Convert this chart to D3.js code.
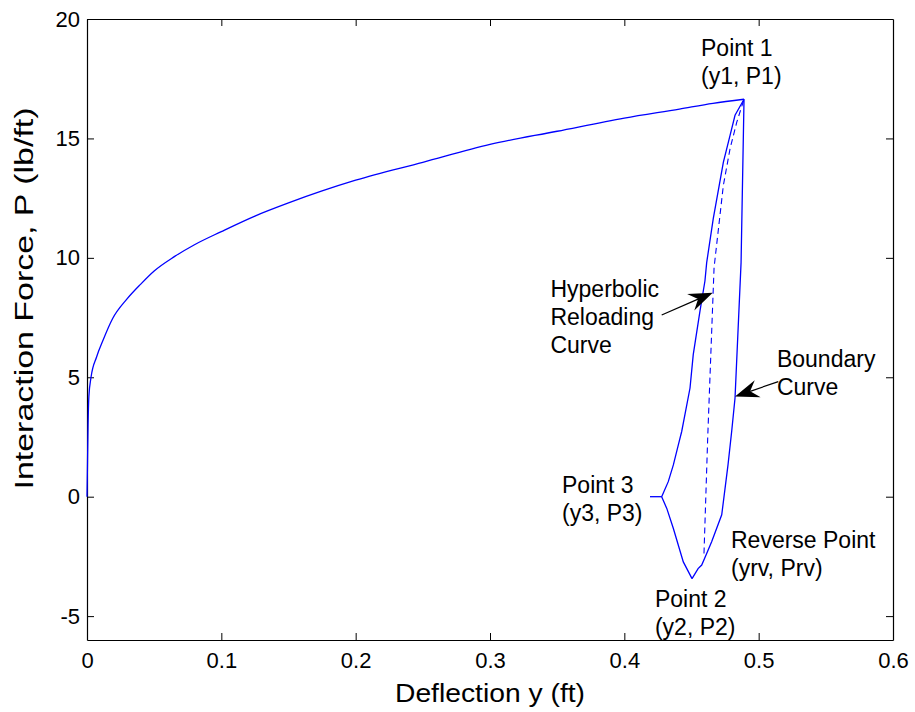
<!DOCTYPE html>
<html>
<head>
<meta charset="utf-8">
<script src="https://cdn.jsdelivr.net/npm/d3@7"></script>
<style>
  body { margin: 0; background: #fff; }
  text { font-family: "Liberation Sans", Arial, sans-serif; fill: #000; }
</style>
</head>
<body>
<div class="canvas"></div>
<script>
// backbone curve: origin to Point 1
const backboneY = [0, 0.0004, 0.0008, 0.0014, 0.003, 0.0072, 0.012, 0.019, 0.0295, 0.04, 0.05, 0.065, 0.08, 0.1, 0.125, 0.15, 0.175, 0.2, 0.25, 0.3, 0.35, 0.4, 0.441, 0.466, 0.4891];
const backboneP = [0, 1.5, 3.0, 4.2, 5.0, 5.86, 6.56, 7.45, 8.26, 8.9, 9.45, 10.05, 10.55, 11.1, 11.75, 12.3, 12.8, 13.25, 14.0, 14.75, 15.3, 15.85, 16.23, 16.47, 16.64];

// boundary curve: Point 1 down to Point 2
const boundaryY = [0.4891, 0.4869, 0.4824, 0.4799, 0.4772, 0.4725, 0.4650, 0.4613, 0.4576, 0.4549, 0.4504];
const boundaryP = [16.64, 9.8, 4.13, 2.73, 1.34, -0.76, -1.89, -2.38, -2.86, -3.01, -3.43];

// Point 2 back to Point 3, then hyperbolic reloading up to Point 1
const reloadY = [0.4504, 0.4439, 0.4365, 0.4316, 0.4278, 0.4327, 0.4365, 0.4402, 0.4427, 0.4489, 0.4513, 0.4563, 0.4600, 0.4613, 0.4662, 0.4737, 0.4787, 0.4824, 0.4891];
const reloadP = [-3.43, -2.73, -1.33, -0.49, 0, 0.63, 1.33, 2.17, 2.73, 4.55, 5.95, 7.77, 9.03, 9.8, 11.64, 14.0, 15.13, 15.97, 16.64];

// short flat piece at Point 3
const flatY = [0.4191, 0.4278];
const flatP = [0, 0];

// dashed curve from reverse point to Point 1
const dashY = [0.4593, 0.4621, 0.4668, 0.4737, 0.4787, 0.4837, 0.4891];
const dashP = [-2.38, 2.52, 9.59, 13.03, 14.57, 15.68, 16.64];

const xTicks = [0, 0.1, 0.2, 0.3, 0.4, 0.5, 0.6];
const yTicks = [-5, 0, 5, 10, 15, 20];

// annotation text: anchor in data units, lines
const notes = [
  { y: 0.4571, p: 18.45, lines: ['Point 1', '(y1, P1)'] },
  { y: 0.3450, p: 8.37, lines: ['Hyperbolic', 'Reloading', 'Curve'] },
  { y: 0.5136, p: 5.43, lines: ['Boundary', 'Curve'] },
  { y: 0.3536, p: 0.15, lines: ['Point 3', '(y3, P3)'] },
  { y: 0.4794, p: -2.15, lines: ['Reverse Point', '(yrv, Prv)'] },
  { y: 0.4228, p: -4.62, lines: ['Point 2', '(y2, P2)'] }
];

// arrows: from -> tip (data units)
const arrows = [
  { y0: 0.4278, p0: 7.61, y1: 0.4658, p1: 8.54 },
  { y0: 0.5146, p0: 4.82, y1: 0.4824, p1: 4.19 }
];

const dims = { width: 915, height: 712 };
const margin = { top: 19, right: 22, bottom: 72, left: 87 };

const svg = d3.select('.canvas').append('svg')
  .attr('width', dims.width)
  .attr('height', dims.height);

const x = d3.scaleLinear().domain([0, 0.6]).range([margin.left, dims.width - margin.right]);
const y = d3.scaleLinear().domain([-6, 20]).range([dims.height - margin.bottom, margin.top]);

const zip = (a, b) => a.map((v, i) => [v, b[i]]);

// axes box and ticks (inward, mirrored)
const tickLen = 7;
const gx = svg.append('g').attr('transform', `translate(0, ${y(-6)})`)
  .call(d3.axisBottom(x).tickValues(xTicks).tickSizeInner(-tickLen).tickSizeOuter(0).tickPadding(12).tickFormat(d => String(d)));
const gxTop = svg.append('g').attr('transform', `translate(0, ${y(20)})`)
  .call(d3.axisTop(x).tickValues(xTicks).tickSizeInner(-tickLen).tickSizeOuter(0).tickFormat(''));
const gy = svg.append('g').attr('transform', `translate(${x(0)}, 0)`)
  .call(d3.axisLeft(y).tickValues(yTicks).tickSizeInner(-tickLen).tickSizeOuter(0).tickPadding(7).tickFormat(d => String(d)));
const gyRight = svg.append('g').attr('transform', `translate(${x(0.6)}, 0)`)
  .call(d3.axisRight(y).tickValues(yTicks).tickSizeInner(-tickLen).tickSizeOuter(0).tickFormat(''));

[gx, gxTop, gy, gyRight].forEach(g => {
  g.select('.domain').attr('stroke', '#000').attr('stroke-width', 1.2);
  g.selectAll('.tick line').attr('stroke', '#000');
  g.selectAll('.tick text')
    .style('font-family', '"Liberation Sans", Arial, sans-serif')
    .style('font-size', '22px')
    .attr('fill', '#000');
});
// hide ticks at the box corners
gx.selectAll('.tick').filter(d => d === 0 || d === 0.6).select('line').remove();
gxTop.selectAll('.tick').filter(d => d === 0 || d === 0.6).select('line').remove();

// axis labels
svg.append('text')
  .attr('x', x(0.3))
  .attr('y', 702)
  .attr('text-anchor', 'middle')
  .attr('textLength', 190)
  .attr('lengthAdjust', 'spacingAndGlyphs')
  .style('font-size', '26px')
  .text('Deflection y (ft)');

svg.append('text')
  .attr('transform', `translate(33, ${y(8.3)}) rotate(-90)`)
  .attr('text-anchor', 'middle')
  .attr('textLength', 382)
  .attr('lengthAdjust', 'spacingAndGlyphs')
  .style('font-size', '26px')
  .text('Interaction Force, P (lb/ft)');

// curves
const line = d3.line().x(d => x(d[0])).y(d => y(d[1]));
const smooth = d3.line().x(d => x(d[0])).y(d => y(d[1])).curve(d3.curveMonotoneX);

svg.append('path').datum(zip(backboneY, backboneP))
  .attr('d', smooth).attr('fill', 'none').attr('stroke', '#0000ff').attr('stroke-width', 1.3);

[zip(boundaryY, boundaryP), zip(reloadY, reloadP), zip(flatY, flatP)].forEach(pts => {
  svg.append('path').datum(pts)
    .attr('d', line).attr('fill', 'none').attr('stroke', '#0000ff').attr('stroke-width', 1.3);
});

svg.append('path').datum(zip(dashY, dashP))
  .attr('d', line).attr('fill', 'none').attr('stroke', '#0000ff').attr('stroke-width', 1.1)
  .attr('stroke-dasharray', '6,4');

// annotation text
notes.forEach(n => {
  const t = svg.append('text')
    .attr('x', x(n.y))
    .attr('y', y(n.p))
    .style('font-size', '23px');
  n.lines.forEach((s, i) => {
    t.append('tspan').attr('x', x(n.y)).attr('dy', i === 0 ? 0 : 28).text(s);
  });
});

// arrows with filled heads
arrows.forEach(a => {
  const x0 = x(a.y0), y0 = y(a.p0), x1 = x(a.y1), y1 = y(a.p1);
  const ang = Math.atan2(y1 - y0, x1 - x0);
  const len = 24, half = 9, back = 16;
  const ux = Math.cos(ang), uy = Math.sin(ang);
  const bx = x1 - ux * len, by = y1 - uy * len;
  const nx = -uy, ny = ux;
  const mx = x1 - ux * back, my = y1 - uy * back;
  svg.append('line')
    .attr('x1', x0).attr('y1', y0).attr('x2', mx).attr('y2', my)
    .attr('stroke', '#000').attr('stroke-width', 1.2);
  svg.append('path')
    .attr('d', `M${x1},${y1}L${bx + nx * half},${by + ny * half}L${mx},${my}L${bx - nx * half},${by - ny * half}Z`)
    .attr('fill', '#000');
});
</script>
</body>
</html>
